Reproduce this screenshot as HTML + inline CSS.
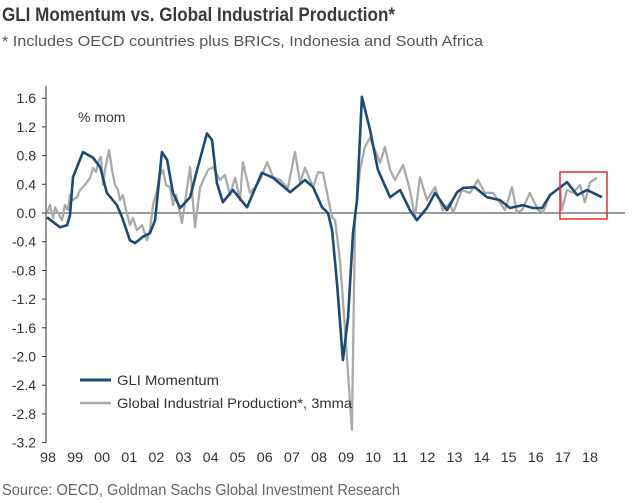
<!DOCTYPE html>
<html><head><meta charset="utf-8"><style>
html,body{margin:0;padding:0;background:#fff;width:640px;height:503px;overflow:hidden}
svg{display:block}
</style></head><body>
<svg width="640" height="503" viewBox="0 0 640 503" font-family="'Liberation Sans',sans-serif">
<text x="2" y="21" font-size="19" font-weight="bold" fill="#3a3a3a" textLength="393" lengthAdjust="spacingAndGlyphs">GLI Momentum vs. Global Industrial Production*</text>
<text x="2" y="46" font-size="15" fill="#555" textLength="481" lengthAdjust="spacingAndGlyphs">* Includes OECD countries plus BRICs, Indonesia and South Africa</text>
<text x="2" y="495" font-size="16" fill="#666" textLength="398" lengthAdjust="spacingAndGlyphs">Source: OECD, Goldman Sachs Global Investment Research</text>
<text x="78" y="122" font-size="14" fill="#333">% mom</text>
<g id="axes"></g>
<g id="series"></g>
<rect x="560" y="172" width="47" height="47" fill="none" stroke="#e03030" stroke-width="1.5"/>
<line x1="80" y1="380" x2="111" y2="380" stroke="#1d4a74" stroke-width="3"/>
<text x="117" y="385" font-size="14" fill="#333" textLength="102" lengthAdjust="spacingAndGlyphs">GLI Momentum</text>
<line x1="80" y1="403" x2="111" y2="403" stroke="#aaa" stroke-width="2.5"/>
<text x="117" y="408" font-size="14" fill="#333" textLength="235" lengthAdjust="spacingAndGlyphs">Global Industrial Production*, 3mma</text>
</svg>
<script>
const yTicks=[1.6,1.2,0.8,0.4,0.0,-0.4,-0.8,-1.2,-1.6,-2.0,-2.4,-2.8,-3.2];
const xLabels=["98","99","00","01","02","03","04","05","06","07","08","09","10","11","12","13","14","15","16","17","18"];
const gliYears=[0,0.48,0.74,0.85,0.96,1.33,1.7,1.96,2.21,2.58,2.77,3.06,3.25,3.54,3.8,3.99,4.24,4.43,4.65,4.91,5.28,5.54,5.9,6.09,6.27,6.49,6.86,7.38,7.93,8.34,8.97,9.52,9.82,10.15,10.37,10.52,10.7,10.92,11.11,11.29,11.44,11.62,11.92,12.21,12.66,13.03,13.39,13.65,14.02,14.32,14.76,15.13,15.35,15.79,16.24,16.72,17.08,17.56,17.93,18.27,18.56,19.19,19.56,19.93,20.48];
const gliValues=[-0.06,-0.2,-0.17,-0.03,0.5,0.85,0.77,0.64,0.28,0.11,-0.06,-0.38,-0.42,-0.33,-0.28,-0.1,0.85,0.74,0.28,0.07,0.22,0.6,1.11,1.02,0.42,0.15,0.32,0.08,0.56,0.49,0.29,0.46,0.36,0.08,0,-0.24,-0.98,-2.05,-1.45,-0.28,0.18,1.62,1.16,0.6,0.22,0.32,0.04,-0.1,0.07,0.28,0.04,0.29,0.35,0.36,0.22,0.18,0.07,0.11,0.07,0.07,0.25,0.43,0.25,0.32,0.22];
const ipYears=[0,0.11,0.22,0.3,0.41,0.55,0.66,0.77,0.85,0.96,1.11,1.22,1.4,1.59,1.7,1.81,1.92,1.99,2.07,2.14,2.29,2.4,2.51,2.62,2.69,2.8,2.92,3.06,3.17,3.32,3.51,3.69,3.8,3.91,4.06,4.17,4.28,4.39,4.54,4.65,4.76,4.98,5.28,5.46,5.65,5.94,6.13,6.38,6.57,6.75,6.94,7.12,7.23,7.49,7.68,7.86,8.12,8.34,8.6,8.89,9.15,9.34,9.52,9.82,10,10.18,10.52,10.63,10.81,11,11.25,11.37,11.55,11.73,11.92,12.1,12.29,12.47,12.66,12.84,13.14,13.39,13.58,13.76,14.02,14.32,14.61,14.87,14.98,15.31,15.61,15.9,16.16,16.46,16.9,17.16,17.34,17.53,17.82,18.12,18.3,18.56,18.93,19,19.19,19.41,19.67,19.85,20.04,20.3];
const ipValues=[0,0.11,-0.07,0.08,0,-0.1,0.11,0.04,0.25,0.18,0.22,0.32,0.39,0.49,0.63,0.57,0.74,0.78,0.39,0.6,0.88,0.6,0.39,0.32,0.18,0.25,0.04,-0.17,-0.07,-0.24,-0.17,-0.38,-0.24,0.11,0.32,0.53,0.6,0.39,0.36,0.11,0.25,-0.14,0.64,-0.2,0.36,0.6,0.64,0.46,0.53,0.25,0.49,0.18,0.71,0.28,0.36,0.46,0.71,0.5,0.46,0.35,0.85,0.42,0.63,0.36,0.57,0.56,-0.06,-0.1,-0.66,-1.63,-3.02,-0.06,0.6,0.92,1.05,0.88,0.7,0.92,0.6,0.46,0.67,0.32,-0.06,0.5,0.18,0.36,0.04,0.14,0,0.32,0.28,0.46,0.28,0.28,0.04,0.36,0.01,0.04,0.28,0.04,0.01,0.25,0.36,0.04,0.32,0.28,0.39,0.15,0.43,0.49];

const NS="http://www.w3.org/2000/svg";
const y=v=>213-v*71.75;
const x=t=>47+t*27.1;
const axes=document.getElementById('axes'),ser=document.getElementById('series');
function mk(tag,attrs,parent){const e=document.createElementNS(NS,tag);for(const k in attrs)e.setAttribute(k,attrs[k]);parent.appendChild(e);return e;}
let a=mk('line',{x1:46,y1:86,x2:46,y2:y(-3.2),stroke:'#333','stroke-width':1},axes);


let z=mk('line',{x1:46,y1:y(0),x2:625,y2:y(0),stroke:'#333','stroke-width':1},axes);


yTicks.forEach(v=>{
  const tk=mk('line',{x1:42,y1:y(v),x2:46,y2:y(v),stroke:'#333'},axes);
  
  
  const t=mk('text',{x:36,y:y(v)+5,'text-anchor':'end','font-size':14,fill:'#333'},axes);
  t.textContent=v.toFixed(1);
  
  
});
xLabels.forEach((l,i)=>{
  const t=mk('text',{x:x(i)+1,y:462,'text-anchor':'middle','font-size':14,fill:'#333',textLength:16,lengthAdjust:'spacingAndGlyphs'},axes);
  t.textContent=l;
  
  
});
function path(xs,vs){return xs.map((t,i)=>(i?'L':'M')+x(t).toFixed(1)+','+y(vs[i]).toFixed(1)).join(' ');}
const p1=mk('path',{d:path(ipYears,ipValues),fill:'none',stroke:'#aaa','stroke-width':2.3,'stroke-linejoin':'round'},ser);


const p2=mk('path',{d:path(gliYears,gliValues),fill:'none',stroke:'#1d4a74','stroke-width':2.6,'stroke-linejoin':'round'},ser);


</script>
</body></html>
